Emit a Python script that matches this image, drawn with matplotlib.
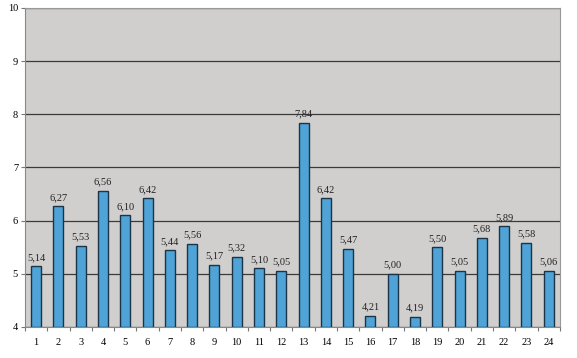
import matplotlib
matplotlib.use("Agg")
import matplotlib.pyplot as plt
import numpy as np

categories = [str(i) for i in range(1, 25)]
values = [5.14, 6.27, 5.53, 6.56, 6.10, 6.42, 5.44, 5.56, 5.17, 5.32, 5.10, 5.05,
          7.84, 6.42, 5.47, 4.21, 5.00, 4.19, 5.50, 5.05, 5.68, 5.89, 5.58, 5.06]
y_ticks = [4, 5, 6, 7, 8, 9, 10]

plt.rcParams['font.family'] = ['Liberation Serif', 'DejaVu Serif']

fig = plt.figure(figsize=(5.77, 3.58), dpi=100)
ax = fig.add_axes([0.0433, 0.087, 0.927, 0.891])
ax.set_facecolor('#d0cfcd')

x = np.arange(1, len(values) + 1)
base = 4
bars = ax.bar(x, np.array(values) - base, bottom=base, width=0.45,
              color='#4fa3d6', edgecolor='#1b3447', linewidth=1.0, zorder=3)

for xi, v in zip(x, values):
    ax.text(xi, v + 0.08, f"{v:.2f}".replace('.', ','), ha='center', va='bottom',
            fontsize=7.5, color='#222222', zorder=4)

ax.set_ylim(4, 10)
ax.set_xlim(0.5, len(values) + 0.5)
ax.set_yticks(y_ticks)
ax.set_yticklabels([str(t) for t in y_ticks], fontsize=7.5)
ax.yaxis.grid(True, color='#3a3a3a', linewidth=0.9, zorder=1)
ax.set_axisbelow(True)

ax.set_xticks(np.arange(0.5, len(values) + 1, 1))
ax.set_xticklabels([])
ax.set_xticks(x, minor=True)
ax.set_xticklabels(categories, minor=True, fontsize=7.5)
ax.tick_params(axis='x', which='minor', length=0, pad=8)
ax.tick_params(axis='x', which='major', length=3, color='#777777')
ax.tick_params(axis='y', length=3, color='#777777', pad=2)

for s in ['top', 'right']:
    ax.spines[s].set_color('#999999')
for s in ['left', 'bottom']:
    ax.spines[s].set_color('#888888')

fig.savefig('out.png', dpi=100, facecolor='white')
